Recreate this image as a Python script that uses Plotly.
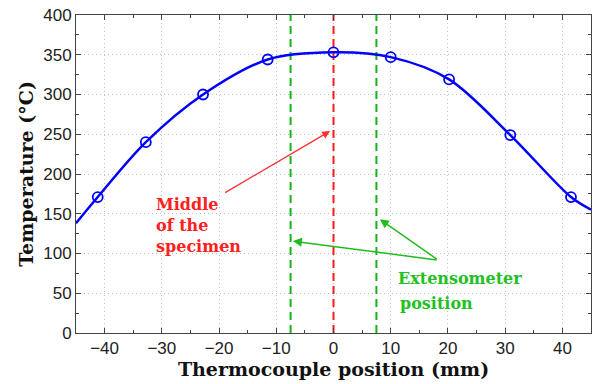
import plotly.graph_objects as go

# Thermocouple measurements
tc_x = [-41.2, -32.8, -22.8, -11.5, 0.0, 10.0, 20.2, 30.9, 41.5]
tc_T = [171, 240, 300, 344, 353, 347, 319, 249, 171]

# Fitted profile
fit_x = [-45, -41.2, -32.8, -22.8, -11.5, 0.0, 10.0, 20.2, 30.9, 41.5, 45]
fit_T = [138, 171, 240, 300, 344, 353, 347, 319, 249, 171, 155]

middle_x = 0
extenso_x = [-7.5, 7.5]

x_ticks = [-40, -30, -20, -10, 0, 10, 20, 30, 40]
y_ticks = [0, 50, 100, 150, 200, 250, 300, 350, 400]

BLUE = "#0000ff"
RED = "#ff1a1a"
GREEN = "#17b217"
TXT_GREEN = "#22c022"

fig = go.Figure()

# vertical reference lines
fig.add_trace(go.Scatter(x=[middle_x, middle_x], y=[0, 400], mode="lines",
                         line=dict(color=RED, width=2, dash="8px,5px"),
                         showlegend=False, hoverinfo="skip"))
for ex in extenso_x:
    fig.add_trace(go.Scatter(x=[ex, ex], y=[0, 400], mode="lines",
                             line=dict(color=GREEN, width=2, dash="8px,5px"),
                             showlegend=False, hoverinfo="skip"))

fig.add_trace(go.Scatter(x=fit_x, y=fit_T, mode="lines",
                         line=dict(color=BLUE, width=2.5, shape="spline", smoothing=0.9),
                         showlegend=False))
fig.add_trace(go.Scatter(x=tc_x, y=tc_T, mode="markers",
                         marker=dict(symbol="circle-open", size=10, color=BLUE,
                                     line=dict(width=1.8, color=BLUE)),
                         showlegend=False))

serif = "DejaVu Serif"

# Middle of the specimen
fig.add_annotation(x=-0.6, y=254, ax=-19.2, ay=175.5, xref="x", yref="y",
                   axref="x", ayref="y", text="", showarrow=True,
                   arrowhead=2, arrowsize=1.2, arrowwidth=1.3, arrowcolor="#ff3030")
fig.add_annotation(x=-31.3, y=176, xref="x", yref="y", xanchor="left", yanchor="top",
                   text="<b>Middle<br>of the<br>specimen</b>", showarrow=False, align="left",
                   font=dict(family=serif, size=16, color="#ff2020"))

# Extensometer position
fig.add_annotation(x=8.1, y=143, ax=18.3, ay=91.7, xref="x", yref="y",
                   axref="x", ayref="y", text="", showarrow=True,
                   arrowhead=2, arrowsize=1.2, arrowwidth=1.5, arrowcolor="#22bb22")
fig.add_annotation(x=-7.1, y=115.6, ax=18.3, ay=91.7, xref="x", yref="y",
                   axref="x", ayref="y", text="", showarrow=True,
                   arrowhead=2, arrowsize=1.2, arrowwidth=1.5, arrowcolor="#22bb22")
fig.add_annotation(x=11.0, y=69, xref="x", yref="y", xanchor="left", yanchor="middle",
                   text="<b>Extensometer</b>", showarrow=False,
                   font=dict(family=serif, size=16, color=TXT_GREEN))
fig.add_annotation(x=11.3, y=37, xref="x", yref="y", xanchor="left", yanchor="middle",
                   text="<b>position</b>", showarrow=False,
                   font=dict(family=serif, size=16, color=TXT_GREEN))

axis_common = dict(
    showline=True, linecolor="#444", linewidth=1, mirror="allticks",
    ticks="inside", ticklen=5, tickcolor="#444",
    showgrid=True, gridcolor="#bdbdbd", griddash="1px,3px", gridwidth=1,
    zeroline=False, automargin=False,
    tickfont=dict(family="Liberation Sans", size=17, color="#222"),
)

fig.update_xaxes(range=[-45, 45], tickvals=x_ticks,
                 ticktext=["\u2212" + str(-v) if v < 0 else str(v) for v in x_ticks],
                 minor=dict(dtick=5, tick0=0, ticks="inside", ticklen=3, tickcolor="#444", showgrid=False),
                 title=dict(text="<b>Thermocouple position (mm)</b>",
                            font=dict(family=serif, size=19, color="#111"), standoff=2),
                 **axis_common)
fig.update_yaxes(range=[0, 400], tickvals=y_ticks,
                 minor=dict(dtick=25, tick0=0, ticks="inside", ticklen=3, tickcolor="#444", showgrid=False),
                 title=dict(text="<b>Temperature (°C)</b>",
                            font=dict(family=serif, size=19, color="#111"), standoff=4),
                 **axis_common)

fig.update_layout(width=596, height=384, margin=dict(l=76, r=5, t=15, b=51),
                  plot_bgcolor="white", paper_bgcolor="white")

fig.write_html("out.html", config={"displayModeBar": False},
               post_script="document.body.style.margin='0';")
